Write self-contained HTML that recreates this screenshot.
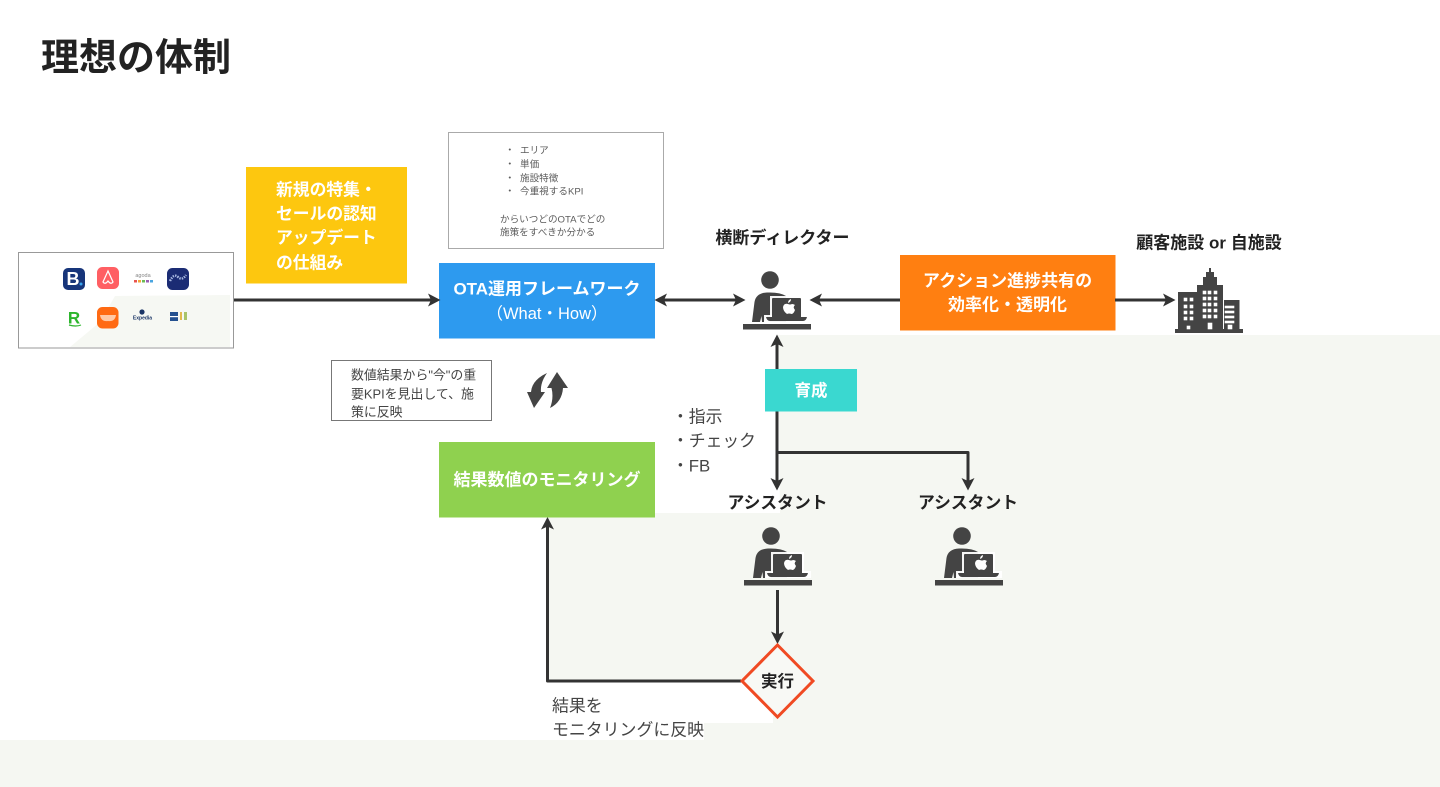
<!DOCTYPE html>
<html lang="ja"><head><meta charset="utf-8"><title>理想の体制</title>
<style>
html,body{margin:0;padding:0;background:#fff;width:1440px;height:787px;overflow:hidden}
svg{display:block;filter:blur(.35px)}
text{font-family:"Liberation Sans","Noto Sans CJK JP",sans-serif;dominant-baseline:central;transform:translateY(2px)}
.b{font-weight:700}
.w{fill:#fff}
.d{fill:#222}
.g{fill:#444}
.s{fill:#5c5c5c;font-size:9.6px}
.m{text-anchor:middle}
.l{stroke:#333;stroke-width:3;fill:none;stroke-linejoin:round}
.h{fill:#333}
</style></head><body>
<svg width="1440" height="787" viewBox="0 0 1440 787" xmlns="http://www.w3.org/2000/svg">
<defs>
<g id="p">
<circle cx="27" cy="-44" r="8.8" fill="#444"/>
<path d="M9,-2 L11.5,-22 Q13,-31 24,-31.5 Q37,-32 43,-28 L43,-2 L27,-2 L23,-9 L21,-2 L19,-2 L18.500,-8 L17,-2 Z" fill="#444"/>
<rect x="27" y="-28" width="33" height="24" fill="#fff" opacity=".95"/>
<rect x="21" y="-9" width="46" height="7" fill="#fff" opacity=".95"/>
<rect x="29" y="-26" width="29" height="20" rx="1" fill="#444"/>
<path d="M23,-7 H64 Q63,-3 60,-3 H27 Q24,-3 23,-7Z" fill="#444"/>
<path d="M44,-10 Q40,-13 40,-17 Q41,-21 45,-20 Q47,-19 49,-20 Q50.500,-20 52,-19 Q49.500,-17 52,-14 Q50.500,-10 48.500,-10 Q46,-11 44,-10Z M45,-21 Q45,-24 48,-25 Q48,-22 45,-21Z" fill="#fff"/>
<rect x="0" y="0" width="68" height="5.5" fill="#444"/>
</g>
</defs>

<!-- background tint -->
<path d="M778,335 H1440 V787 H0 V740 H704 V723 H773 V682 H547 V517 H655 V513 H780 Z" fill="#f5f7f2"/>

<!-- title -->
<text x="41" y="56.500" class="b" font-size="38" fill="#222">理想の体制</text>

<!-- logos box -->
<rect x="18.500" y="252.500" width="215" height="95.500" fill="#fff" stroke="#999"/>
<path d="M70,347 L100,322 L115,296 L230,295 V347 Z" fill="#f6f8f3"/>
<rect x="63" y="268" width="22" height="22" rx="5" fill="#17357a"/>
<text x="73" y="277" class="b w m" font-size="18">B</text>
<circle cx="81" cy="284" r="1.5" fill="#3aa5ee"/>
<rect x="97" y="267" width="22" height="22" rx="5.500" fill="#ff5f63"/>
<path d="M108,271 L103,282 Q105,285 108,281 Q111,285 113,282 Z" fill="none" stroke="#fff" stroke-width="1.2"/>
<text x="143" y="274" class="m" font-size="5.500" fill="#888">agoda</text>
<rect x="134" y="280" width="3" height="2.500" fill="#e8534f"/><rect x="138" y="280" width="3" height="2.500" fill="#f3a83b"/><rect x="142" y="280" width="3" height="2.500" fill="#6cbb55"/><rect x="146" y="280" width="3" height="2.500" fill="#9a5fb4"/><rect x="150" y="280" width="3" height="2.500" fill="#4aa5e0"/>
<rect x="167" y="268" width="22" height="22" rx="5.500" fill="#1b2c74"/>
<path d="M170,281 Q174,273 178,277 T186,275" fill="none" stroke="#a7b7e0" stroke-width="2.400" stroke-dasharray="1.500 1"/>
<text x="74" y="316" class="b m" font-size="17" fill="#2cb52c">R</text>
<path d="M69,325 Q76,327 81,325" stroke="#2cb52c" stroke-width="1.200" fill="none"/>
<rect x="97" y="307" width="21.500" height="21.500" rx="5.500" fill="#ff6a13"/>
<path d="M100,315 H116 Q115,322 108,321 Q101,322 100,315Z" fill="#ffc9a6"/>
<circle cx="142" cy="312" r="2.600" fill="#1b3566"/>
<text x="142.500" y="316.500" class="b m" font-size="5" fill="#1b3566">Expedia</text>
<rect x="170" y="312" width="8" height="9" fill="#24508f"/><rect x="170" y="316" width="8" height="1.200" fill="#fff"/>
<rect x="180" y="312" width="2" height="8" fill="#e3b94d"/><rect x="184" y="312" width="3" height="8" fill="#a9c46a"/>

<!-- yellow -->
<rect x="246" y="167" width="161" height="116.500" fill="#fdc70f"/>
<g class="b" font-size="16.800">
<text x="276" y="188" class="w">新規の特集・</text>
<text x="276" y="212" class="w">セールの認知</text>
<text x="276" y="236" class="w">アップデート</text>
<text x="276" y="261" class="w">の仕組み</text>
</g>

<!-- note -->
<rect x="448.500" y="132.500" width="215" height="116" fill="#fff" stroke="#aaa"/>
<text x="505" y="149" class="s">・</text><text x="520" y="149" class="s">エリア</text>
<text x="505" y="163" class="s">・</text><text x="520" y="163" class="s">単価</text>
<text x="505" y="177" class="s">・</text><text x="520" y="177" class="s">施設特徴</text>
<text x="505" y="190" class="s">・</text><text x="520" y="190" class="s">今重視するKPI</text>
<text x="500" y="218" class="s">からいつどのOTAでどの</text>
<text x="500" y="231" class="s">施策をすべきか分かる</text>

<!-- blue -->
<rect x="439" y="263" width="216" height="75.500" fill="#2d9aef"/>
<text x="547" y="287" class="b w m" font-size="17">OTA運用フレームワーク</text>
<text x="547" y="312" class="w m" font-size="16.500">（What・How）</text>

<!-- labels -->
<text x="782.500" y="236" class="b d m" font-size="17">横断ディレクター</text>
<text x="1209" y="241" class="b d m" font-size="17">顧客施設 or 自施設</text>

<!-- orange -->
<rect x="900" y="255" width="215.500" height="75.500" fill="#ff7f11"/>
<text x="1007.500" y="279" class="b w m" font-size="17">アクション進捗共有の</text>
<text x="1007.500" y="303" class="b w m" font-size="17">効率化・透明化</text>

<!-- connectors -->
<path class="l" d="M234,300 H432"/><path class="h" d="M440.500,300 L428,293.500 L431,300 L428,306.500Z"/>
<path class="l" d="M663,300 H737"/><path class="h" d="M654.500,300 L667,293.500 L664,300 L667,306.500Z"/><path class="h" d="M745.500,300 L733,293.500 L736,300 L733,306.500Z"/>
<path class="l" d="M900,300 H818"/><path class="h" d="M809.500,300 L822,293.500 L819,300 L822,306.500Z"/>
<path class="l" d="M1115,300 H1167"/><path class="h" d="M1175.500,300 L1163,293.500 L1166,300 L1163,306.500Z"/>
<path class="l" d="M777,369 V343"/><path class="h" d="M777,334.500 L770.500,347 L777,344 L783.500,347Z"/>
<path class="l" d="M777,411 V482"/><path class="h" d="M777,490.500 L770.500,478 L777,481 L783.500,478Z"/>
<path class="l" d="M777,452.500 H968 V482"/><path class="h" d="M968,490.500 L961.500,478 L968,481 L974.500,478Z"/>
<path class="l" d="M777.500,590 V635"/><path class="h" d="M777.500,644 L771,631.500 L777.500,634.500 L784,631.500Z"/>
<path class="l" d="M741,681 H547.500 V526"/><path class="h" d="M547.500,517 L541,529.500 L547.500,526.500 L554,529.500Z"/>

<!-- teal -->
<rect x="765" y="369" width="92" height="42.500" fill="#3ad8d0"/>
<text x="811" y="389" class="b w m" font-size="16.500">育成</text>

<!-- instructions -->
<g font-size="16.800" class="g">
<text x="672" y="415" class="g">・指示</text>
<text x="672" y="439" class="g">・チェック</text>
<text x="672" y="464" class="g">・FB</text>
</g>

<!-- small box -->
<rect x="331.500" y="360.500" width="160" height="60" fill="#fff" stroke="#777"/>
<g font-size="12.900">
<text x="351" y="373" class="g">数値結果から"今"の重</text>
<text x="351" y="392" class="g">要KPIを見出して、施</text>
<text x="351" y="410" class="g">策に反映</text>
</g>

<!-- sync arrows -->
<path d="M534,408 L527,392 L531,392 Q532,380 547,373 Q540,383 541,392 L545,392 Z" fill="#444"/>
<path d="M557,372 L568,388 L563,388 Q562,402 550,408 Q554,398 551.500,388 L547,388 Z" fill="#444"/>

<!-- green -->
<rect x="439" y="442" width="216" height="75.500" fill="#8fd14f"/>
<text x="547" y="478" class="b w m" font-size="17">結果数値のモニタリング</text>

<!-- assistants -->
<text x="777.500" y="501" class="b d m" font-size="16.800">アシスタント</text>
<text x="968" y="501" class="b d m" font-size="16.800">アシスタント</text>

<!-- people -->
<use href="#p" x="743" y="324"/>
<use href="#p" x="744" y="580"/>
<use href="#p" x="935" y="580"/>

<!-- building -->
<g fill="#444">
<rect x="1175" y="329" width="68" height="4"/>
<rect x="1178" y="292" width="19" height="37"/>
<rect x="1197" y="285" width="26" height="44"/>
<rect x="1203" y="277" width="14" height="8"/>
<rect x="1206" y="272" width="8" height="6"/>
<rect x="1209" y="268" width="2" height="5"/>
<rect x="1224" y="300" width="15.500" height="29"/>
</g>
<g fill="#fff" stroke="#fff" stroke-width=".6">
<rect x="1184" y="298" width="3" height="3"/><rect x="1190" y="298" width="3" height="3"/>
<rect x="1184" y="305" width="3" height="3"/><rect x="1190" y="305" width="3" height="3"/>
<rect x="1184" y="311" width="3" height="3"/><rect x="1190" y="311" width="3" height="3"/>
<rect x="1184" y="317" width="3" height="3"/><rect x="1190" y="317" width="3" height="3"/>
<rect x="1187" y="326" width="3" height="3"/>
<rect x="1203" y="291" width="3" height="3"/><rect x="1208" y="291" width="3" height="3"/><rect x="1214" y="291" width="3" height="3"/>
<rect x="1203" y="297" width="3" height="3"/><rect x="1208" y="297" width="3" height="3"/><rect x="1214" y="297" width="3" height="3"/>
<rect x="1203" y="303" width="3" height="3"/><rect x="1208" y="303" width="3" height="3"/><rect x="1214" y="303" width="3" height="3"/>
<rect x="1203" y="309" width="3" height="3"/><rect x="1208" y="309" width="3" height="3"/><rect x="1214" y="309" width="3" height="3"/>
<rect x="1203" y="315" width="3" height="3"/><rect x="1208" y="315" width="3" height="3"/><rect x="1214" y="315" width="3" height="3"/>
<rect x="1208" y="323" width="4" height="6"/>
<rect x="1225" y="306" width="9" height="2"/><rect x="1225" y="311" width="9" height="2"/><rect x="1225" y="316" width="9" height="2"/><rect x="1225" y="321" width="9" height="2"/>
<rect x="1228" y="325" width="4" height="4"/>
</g>

<!-- diamond -->
<path d="M777.500,645 L813,681 L777.500,717 L742,681 Z" fill="#f8f9f5" stroke="#f04a23" stroke-width="3"/>
<text x="777.500" y="680" class="b d m" font-size="16.500">実行</text>

<!-- feedback label -->
<g font-size="16.900">
<text x="552" y="704" class="g">結果を</text>
<text x="552" y="728" class="g">モニタリングに反映</text>
</g>
</svg>
</body></html>
